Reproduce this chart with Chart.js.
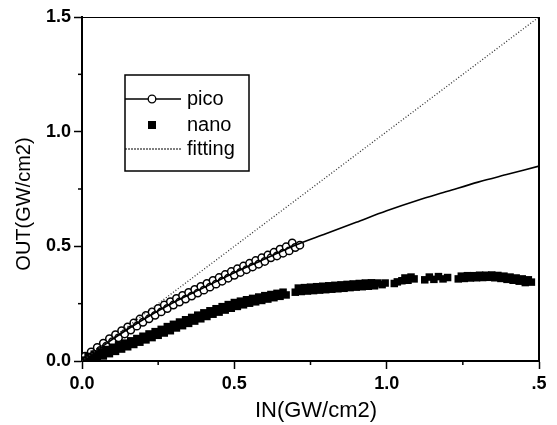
<!DOCTYPE html>
<html lang="en">
<head>
  <meta charset="UTF-8" />
  <title>OUT vs IN</title>
  <script src="https://cdn.jsdelivr.net/npm/chart.js@4.4.0/dist/chart.umd.min.js"></script>
  <style>
    html, body { margin: 0; padding: 0; background: #fff; }
    #wrap { width: 557px; height: 425px; }
  </style>
</head>
<body>
  <div id="wrap"><canvas id="lineChart"></canvas></div>
<script>
  // pico measured points (open circles)
  const pico_x = [0.00, 0.01, 0.02, 0.03, 0.04, 0.05, 0.06, 0.07, 0.08, 0.09,
    0.10, 0.11, 0.12, 0.13, 0.14, 0.15, 0.16, 0.17, 0.18, 0.19,
    0.20, 0.21, 0.22, 0.23, 0.24, 0.25, 0.26, 0.27, 0.28, 0.29,
    0.30, 0.31, 0.32, 0.33, 0.34, 0.35, 0.36, 0.37, 0.38, 0.39,
    0.40, 0.41, 0.42, 0.43, 0.44, 0.45, 0.46, 0.47, 0.48, 0.49,
    0.50, 0.51, 0.52, 0.53, 0.54, 0.55, 0.56, 0.57, 0.58, 0.59,
    0.60, 0.61, 0.62, 0.63, 0.64, 0.65, 0.66, 0.67, 0.68, 0.69,
    0.70, 0.715];
  const pico_y = [0.000, 0.021, 0.008, 0.040, 0.027, 0.059, 0.046, 0.078, 0.065, 0.097,
    0.084, 0.115, 0.101, 0.132, 0.118, 0.149, 0.135, 0.166, 0.152, 0.183,
    0.169, 0.199, 0.184, 0.214, 0.199, 0.229, 0.214, 0.244, 0.229, 0.259,
    0.244, 0.273, 0.257, 0.286, 0.270, 0.299, 0.283, 0.312, 0.296, 0.325,
    0.309, 0.338, 0.322, 0.351, 0.335, 0.364, 0.348, 0.377, 0.361, 0.390,
    0.374, 0.402, 0.386, 0.414, 0.398, 0.426, 0.410, 0.438, 0.422, 0.450,
    0.434, 0.462, 0.450, 0.474, 0.458, 0.488, 0.470, 0.498, 0.480, 0.515,
    0.495, 0.505];

  // solid fitted curve through pico
  const fit_x = [0, 0.1, 0.2, 0.3, 0.4, 0.5, 0.6, 0.7, 0.8, 0.9, 1.0, 1.1, 1.2, 1.3, 1.4, 1.5];
  const fit_y = [0, 0.095, 0.18, 0.255, 0.32, 0.385, 0.445, 0.505, 0.555, 0.605, 0.655, 0.70, 0.74, 0.78, 0.815, 0.85];

  // nano measured points (filled squares)
  const nano_x = [0.00, 0.01, 0.02, 0.03, 0.04, 0.05, 0.06, 0.07, 0.08, 0.09,
    0.10, 0.11, 0.12, 0.13, 0.14, 0.15, 0.16, 0.17, 0.18, 0.19,
    0.20, 0.21, 0.22, 0.23, 0.24, 0.25, 0.26, 0.27, 0.28, 0.29,
    0.30, 0.31, 0.32, 0.33, 0.34, 0.35, 0.36, 0.37, 0.38, 0.39,
    0.40, 0.41, 0.42, 0.43, 0.44, 0.45, 0.46, 0.47, 0.48, 0.49,
    0.50, 0.51, 0.52, 0.53, 0.54, 0.55, 0.56, 0.57, 0.58, 0.59,
    0.60, 0.61, 0.62, 0.63, 0.64, 0.65, 0.66, 0.67,
    0.70, 0.71, 0.72, 0.73, 0.74, 0.75, 0.76, 0.77, 0.78, 0.79,
    0.80, 0.81, 0.82, 0.83, 0.84, 0.85, 0.86, 0.87, 0.88, 0.89,
    0.90, 0.91, 0.92, 0.93, 0.94, 0.95, 0.96, 0.97,
    0.985, 0.995, 1.025, 1.035,
    1.05, 1.06, 1.07, 1.08, 1.09,
    1.125, 1.14, 1.155, 1.17, 1.185, 1.20,
    1.235, 1.245, 1.255, 1.265, 1.275, 1.285, 1.295, 1.305, 1.315, 1.325,
    1.335, 1.345, 1.355, 1.365, 1.375, 1.385, 1.395, 1.405, 1.415, 1.425,
    1.435, 1.445, 1.455, 1.465, 1.475];
  const nano_y = [0.004, 0.000, 0.020, 0.004, 0.030, 0.012, 0.040, 0.022, 0.050, 0.032,
    0.060, 0.042, 0.070, 0.052, 0.078, 0.062, 0.088, 0.072, 0.098, 0.082,
    0.108, 0.092, 0.118, 0.102, 0.128, 0.112, 0.138, 0.122, 0.150, 0.132,
    0.160, 0.144, 0.170, 0.154, 0.180, 0.164, 0.190, 0.174, 0.200, 0.184,
    0.210, 0.194, 0.219, 0.204, 0.228, 0.213, 0.237, 0.222, 0.246, 0.230,
    0.255, 0.238, 0.261, 0.245, 0.267, 0.252, 0.273, 0.258, 0.279, 0.264,
    0.285, 0.270, 0.290, 0.276, 0.295, 0.282, 0.300, 0.288,
    0.300, 0.318, 0.303, 0.320, 0.305, 0.322, 0.307, 0.324, 0.309, 0.326,
    0.311, 0.328, 0.313, 0.330, 0.315, 0.332, 0.317, 0.334, 0.320, 0.336,
    0.322, 0.338, 0.324, 0.340, 0.326, 0.341, 0.328, 0.340,
    0.333, 0.340, 0.338, 0.345,
    0.350, 0.362, 0.352, 0.366, 0.358,
    0.354, 0.366, 0.356, 0.368, 0.358, 0.364,
    0.358, 0.370, 0.360, 0.372, 0.362, 0.372, 0.363, 0.374, 0.364, 0.374,
    0.365, 0.375, 0.363, 0.373, 0.360, 0.370, 0.356, 0.366, 0.352, 0.362,
    0.348, 0.358, 0.342, 0.354, 0.344];

  // dotted fitting line
  const line_x = [0, 1.5];
  const line_y = [0, 1.5];

  const x_ticks = { 0: '0.0', 0.5: '0.5', 1: '1.0', 1.5: '.5' };
  const y_ticks = { 0: '0.0', 0.5: '0.5', 1: '1.0', 1.5: '1.5' };
  const minor_ticks = [0.25, 0.75, 1.25];

  const FONT = '"Liberation Sans", Arial, Helvetica, sans-serif';

  function pts(xs, ys) {
    return xs.map(function (x, i) { return { x: x, y: ys[i] }; });
  }

  function isMajor(v) {
    return Math.abs(v * 2 - Math.round(v * 2)) < 1e-6;
  }

  const frame_plugin = {
    id: 'frame',
    afterDraw: function (chart) {
      const ctx = chart.ctx;
      const a = chart.chartArea;
      const sx = chart.scales.x;
      const sy = chart.scales.y;
      ctx.save();
      ctx.strokeStyle = '#000';
      ctx.fillStyle = '#000';

      // top (thin) and right (thick) frame
      ctx.lineWidth = 1;
      ctx.beginPath();
      ctx.moveTo(a.left, a.top + 0.5);
      ctx.lineTo(a.right, a.top + 0.5);
      ctx.stroke();
      ctx.lineWidth = 2;
      ctx.beginPath();
      ctx.moveTo(a.right, a.top);
      ctx.lineTo(a.right, a.bottom);
      ctx.stroke();

      // minor ticks
      ctx.lineWidth = 1.5;
      minor_ticks.forEach(function (v) {
        const px = sx.getPixelForValue(v);
        ctx.beginPath(); ctx.moveTo(px, a.bottom); ctx.lineTo(px, a.bottom + 4); ctx.stroke();
        const py = sy.getPixelForValue(v);
        ctx.beginPath(); ctx.moveTo(a.left, py); ctx.lineTo(a.left - 4, py); ctx.stroke();
      });

      // axis titles
      ctx.textAlign = 'center';
      ctx.textBaseline = 'middle';
      ctx.font = '22px ' + FONT;
      ctx.fillText('IN(GW/cm2)', 316, 411);
      ctx.save();
      ctx.translate(24, 204);
      ctx.rotate(-Math.PI / 2);
      ctx.font = '20px ' + FONT;
      ctx.fillText('OUT(GW/cm2)', 0, 0);
      ctx.restore();

      // legend box
      const bx = 125, by = 75, bw = 124, bh = 96;
      ctx.lineWidth = 1.5;
      ctx.strokeRect(bx, by, bw, bh);
      ctx.font = '20px ' + FONT;
      ctx.textAlign = 'left';
      ctx.textBaseline = 'alphabetic';
      // pico
      ctx.lineWidth = 1.3;
      ctx.beginPath(); ctx.moveTo(bx, 99); ctx.lineTo(181, 99); ctx.stroke();
      ctx.beginPath(); ctx.arc(152, 99, 3.8, 0, Math.PI * 2);
      ctx.fillStyle = '#fff'; ctx.fill(); ctx.stroke();
      ctx.fillStyle = '#000';
      ctx.fillText('pico', 187, 105);
      // nano
      ctx.fillRect(148, 121, 8, 8);
      ctx.fillText('nano', 187, 131);
      // fitting
      ctx.setLineDash([2, 1]);
      ctx.lineWidth = 1.1;
      ctx.beginPath(); ctx.moveTo(bx, 149); ctx.lineTo(181, 149); ctx.stroke();
      ctx.setLineDash([]);
      ctx.fillText('fitting', 187, 155);
      ctx.restore();
    }
  };

  const tick_color = function (c) { return isMajor(c.tick.value) ? '#000' : 'rgba(0,0,0,0)'; };

  const config_line = {
    type: 'scatter',
    data: {
      datasets: [{
        label: 'fitting',
        data: pts(line_x, line_y),
        showLine: true,
        borderColor: '#333',
        borderWidth: 1.3,
        borderDash: [1, 2],
        pointRadius: 0
      }, {
        label: 'pico fit',
        data: pts(fit_x, fit_y),
        showLine: true,
        borderColor: '#000',
        borderWidth: 1.6,
        cubicInterpolationMode: 'monotone',
        pointRadius: 0
      }, {
        label: 'nano',
        data: pts(nano_x, nano_y),
        pointStyle: 'rect',
        pointRadius: 5.3,
        backgroundColor: '#000',
        borderColor: '#000',
        borderWidth: 0
      }, {
        label: 'pico',
        data: pts(pico_x, pico_y),
        pointStyle: 'circle',
        pointRadius: 3.7,
        backgroundColor: '#fff',
        borderColor: '#000',
        borderWidth: 1.5
      }]
    },
    options: {
      responsive: true,
      maintainAspectRatio: false,
      animation: false,
      layout: { padding: { top: 17, right: 18, left: 0, bottom: 0 } },
      plugins: {
        legend: { display: false },
        tooltip: { enabled: false }
      },
      scales: {
        x: {
          type: 'linear',
          min: 0,
          max: 1.5,
          afterFit: function (s) { s.height = 64; },
          border: { color: '#000', width: 2 },
          grid: { drawOnChartArea: false, drawTicks: true, tickLength: 8, tickWidth: 1.5, tickColor: tick_color },
          ticks: {
            stepSize: 0.25,
            maxRotation: 0,
            autoSkip: false,
            color: '#000',
            padding: 4,
            font: { family: FONT, size: 18, weight: 'bold' },
            callback: function (v) { return x_ticks[v] !== undefined ? x_ticks[v] : ''; }
          }
        },
        y: {
          type: 'linear',
          min: 0,
          max: 1.5,
          afterFit: function (s) { s.width = 82; },
          border: { color: '#000', width: 2 },
          grid: { drawOnChartArea: false, drawTicks: true, tickLength: 8, tickWidth: 1.5, tickColor: tick_color },
          ticks: {
            stepSize: 0.25,
            autoSkip: false,
            color: '#000',
            padding: 3,
            font: { family: FONT, size: 18, weight: 'bold' },
            callback: function (v) { return y_ticks[v] !== undefined ? y_ticks[v] : ''; }
          }
        }
      }
    },
    plugins: [frame_plugin]
  };

  new Chart('lineChart', config_line);
</script>
</body>
</html>
